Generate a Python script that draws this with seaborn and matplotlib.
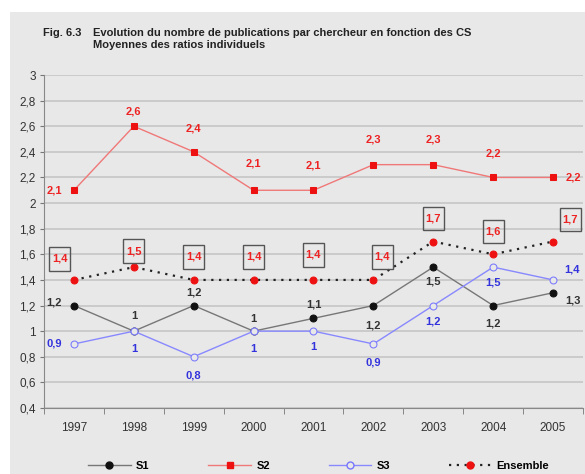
import pandas as pd
import matplotlib.pyplot as plt
import seaborn as sns
from matplotlib.patches import Rectangle
from matplotlib.lines import Line2D

years = ["1997", "1998", "1999", "2000", "2001", "2002", "2003", "2004", "2005"]
s1 = [1.2, 1.0, 1.2, 1.0, 1.1, 1.2, 1.5, 1.2, 1.3]
s2 = [2.1, 2.6, 2.4, 2.1, 2.1, 2.3, 2.3, 2.2, 2.2]
s3 = [0.9, 1.0, 0.8, 1.0, 1.0, 0.9, 1.2, 1.5, 1.4]
ensemble = [1.4, 1.5, 1.4, 1.4, 1.4, 1.4, 1.7, 1.6, 1.7]
y_ticks = [0.4, 0.6, 0.8, 1.0, 1.2, 1.4, 1.6, 1.8, 2.0, 2.2, 2.4, 2.6, 2.8, 3.0]

# label offsets in screen pixels (dx, dy down)
off_s1 = [(-20, -3), (0, -15), (0, -13), (0, -12), (0, -14), (0, 20), (0, 14), (0, 18), (20, 8)]
off_s2 = [(-20, 0), (0, -15), (0, -23), (0, -27), (0, -25), (0, -25), (0, -25), (0, -24), (20, 0)]
off_s3 = [(-20, 0), (0, 18), (0, 19), (0, 18), (0, 16), (0, 19), (0, 16), (0, 15), (19, -10)]
off_en = [(-14, -21), (0, -16), (0, -23), (0, -23), (0, -25), (9, -23), (0, -23), (0, -23), (17, -22)]

bg = "#e8e8e8"
plt.rcParams['font.family'] = ['Liberation Sans', 'DejaVu Sans']

fig = plt.figure(figsize=(5.85, 4.74), dpi=100)
fig.patches.append(Rectangle((10 / 585, 0), 1, 1 - 12 / 474, transform=fig.transFigure,
                             facecolor=bg, edgecolor="none", zorder=-10))
ax = fig.add_axes([44 / 585, 1 - 408 / 474, 539 / 585, 333 / 474])
ax.set_facecolor(bg)

df = pd.DataFrame({"annee": years, "S1": s1, "S2": s2, "S3": s3, "Ensemble": ensemble})

ms = 5
sns.lineplot(data=df, x="annee", y="S2", ax=ax, color="#f07878", lw=1, marker="s",
             markersize=ms, markerfacecolor="#ee1111", markeredgecolor="#ee1111", zorder=3)
sns.lineplot(data=df, x="annee", y="Ensemble", ax=ax, color="#222222", lw=1.6, ls=(0, (1, 2.5)),
             marker="o", markersize=ms, markerfacecolor="#ee1111", markeredgecolor="#ee1111", zorder=3)
sns.lineplot(data=df, x="annee", y="S1", ax=ax, color="#777777", lw=1, marker="o",
             markersize=ms, markerfacecolor="#111111", markeredgecolor="#111111", zorder=4)
sns.lineplot(data=df, x="annee", y="S3", ax=ax, color="#8888ff", lw=1, marker="o",
             markersize=ms, markerfacecolor=bg, markeredgecolor="#7777ff", zorder=4)

def fmt(v):
    return ("%g" % v).replace(".", ",")

def labels(vals, offs, color, box=False):
    for i, (v, (dx, dy)) in enumerate(zip(vals, offs)):
        kw = {}
        if box:
            kw["bbox"] = dict(boxstyle="square,pad=0.25", mutation_aspect=2.4,
                              fc="none", ec="#555555", lw=1)
        ax.annotate(fmt(v), (i, v), xytext=(dx, -dy), textcoords="offset pixels",
                    ha="center", va="center", fontsize=8, fontweight="bold", color=color, **kw)

labels(s2, off_s2, "#ee2222")
labels(ensemble, off_en, "#ee2222", box=True)
labels(s1, off_s1, "#333333")
labels(s3, off_s3, "#3333dd")

ax.set_xlim(-0.5, len(years) - 0.5)
ax.set_ylim(0.4, 3.0)
ax.set_yticks(y_ticks)
ax.set_yticklabels([fmt(round(t, 1)) for t in y_ticks])
ax.set_xticks(range(len(years)))
ax.set_xticklabels(years)
ax.set_xticks([i - 0.5 for i in range(len(years) + 1)], minor=True)
ax.tick_params(axis="x", which="major", length=0, pad=10, labelsize=8.5, labelcolor="#333333")
ax.tick_params(axis="x", which="minor", length=4, color="#777777", direction="out")
ax.tick_params(axis="y", length=3, color="#777777", labelsize=8.5, labelcolor="#333333", pad=3)
ax.grid(axis="y", color="#c8c8c8", lw=1.3, zorder=0)
ax.set_axisbelow(True)
for side in ["top", "right"]:
    ax.spines[side].set_visible(False)
for side in ["left", "bottom"]:
    ax.spines[side].set_color("#888888")
ax.set_xlabel("")
ax.set_ylabel("")

fig.text(43 / 585, 1 - 33 / 474, "Fig. 6.3", fontsize=8, fontweight="bold", color="#222222",
         va="center")
fig.text(93 / 585, 1 - 38.5 / 474, "Evolution du nombre de publications par chercheur en fonction des CS\nMoyennes des ratios individuels",
         fontsize=8, fontweight="bold", color="#222222", va="center", linespacing=1.25)

handles = [
    Line2D([], [], color="#777777", lw=1, marker="o", ms=ms, mfc="#111111", mec="#111111"),
    Line2D([], [], color="#f07878", lw=1, marker="s", ms=ms, mfc="#ee1111", mec="#ee1111"),
    Line2D([], [], color="#8888ff", lw=1, marker="o", ms=ms, mfc=bg, mec="#7777ff"),
    Line2D([], [], color="#222222", lw=1.6, ls=(0, (1, 2.5)), marker="o", ms=ms, mfc="#ee1111", mec="#ee1111"),
]
fig.legend(handles, ["S1", "S2", "S3", "Ensemble"], loc="center", bbox_to_anchor=(0.545, 1 - 466 / 474),
           ncol=4, frameon=False, handlelength=3.8, columnspacing=5.3, handletextpad=0.5,
           prop={"weight": "bold", "size": 8})

fig.savefig("out.png", dpi=100)
